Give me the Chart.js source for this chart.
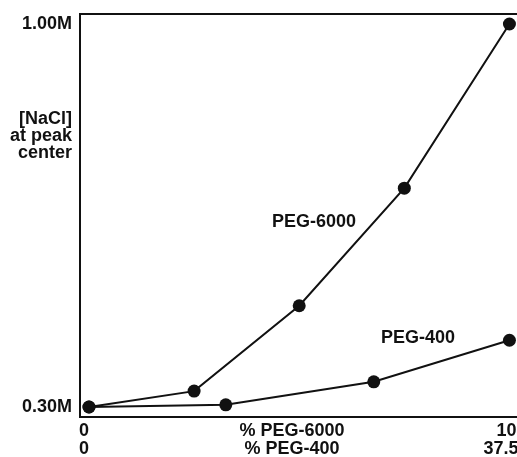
<!DOCTYPE html>
<html>
<head>
<meta charset="utf-8">
<script src="https://cdn.jsdelivr.net/npm/chart.js@4/dist/chart.umd.min.js"></script>
<style>
  body { margin: 0; background: #fff; }
  #wrap { width: 517px; height: 457px; }
</style>
</head>
<body>
<div id="wrap"><canvas id="pegChart" width="517" height="457"></canvas></div>
<script>
// data
const peg6000X = [0, 2.5, 5, 7.5, 10]          // % PEG-6000
const peg6000Y = [0.30, 0.329, 0.485, 0.70, 1.00]
const peg400X = [0, 12.2, 25.4, 37.5]           // % PEG-400
const peg400Y = [0.30, 0.304, 0.346, 0.422]

const yTickValues = [0.30, 1.00]
const yTickLabels = ['0.30M', '1.00M']
const xTickValues = [0, 10]
const xTickLabels6000 = ['0', '10']
const xTickLabels400 = ['0', '37.5']
const yTitleLines = ['[NaCl]', 'at peak', 'center']
const xTitle6000 = '% PEG-6000'
const xTitle400 = '% PEG-400'
const seriesNames = ['PEG-6000', 'PEG-400']

const FONT = 'bold 18px "Liberation Sans", Arial, Helvetica, sans-serif'
const INK = '#111'

const toPoints = (xs, ys) => xs.map((x, i) => ({ x: x, y: ys[i] }))

// frame + all the text, drawn from the scales
const paperPlugin = {
    id: 'paper',
    beforeDatasetsDraw: chart => {
        const { ctx, chartArea: a } = chart
        ctx.save()
        ctx.strokeStyle = INK
        ctx.lineWidth = 2
        ctx.beginPath()
        ctx.moveTo(a.right + 2, a.top)
        ctx.lineTo(a.left, a.top)
        ctx.lineTo(a.left, a.bottom)
        ctx.lineTo(a.right + 2, a.bottom)
        ctx.stroke()
        ctx.restore()
    },
    afterDraw: chart => {
        const { ctx, chartArea: a } = chart
        const xs = chart.scales.x
        const ys = chart.scales.y
        ctx.save()
        ctx.font = FONT
        ctx.fillStyle = INK

        // y ticks
        ctx.textAlign = 'right'
        ctx.textBaseline = 'middle'
        yTickValues.forEach((v, i) => {
            ctx.fillText(yTickLabels[i], a.left - 8, ys.getPixelForValue(v))
        })

        // y title
        ctx.textBaseline = 'alphabetic'
        yTitleLines.forEach((line, i) => {
            ctx.fillText(line, a.left - 8, 124 + i * 17)
        })

        // x ticks, two rows
        xTickValues.forEach((v, i) => {
            let px = xs.getPixelForValue(v)
            if (i === 0) {
                ctx.textAlign = 'center'
                ctx.fillText(xTickLabels6000[i], px - 5, a.bottom + 19)
                ctx.fillText(xTickLabels400[i], px - 5, a.bottom + 37)
            } else {
                ctx.textAlign = 'right'
                ctx.fillText(xTickLabels6000[i], px + 7, a.bottom + 19)
                ctx.fillText(xTickLabels400[i], px + 9, a.bottom + 37)
            }
        })

        // x titles
        ctx.textAlign = 'center'
        ctx.fillText(xTitle6000, 292, a.bottom + 19)
        ctx.fillText(xTitle400, 292, a.bottom + 37)

        // series names
        ctx.fillText(seriesNames[0], 314, 227)
        ctx.fillText(seriesNames[1], 418, 343)
        ctx.restore()
    }
}

const lineStyle = {
    borderColor: INK,
    backgroundColor: INK,
    borderWidth: 2,
    pointRadius: 6.5,
    pointBorderWidth: 0,
    pointBackgroundColor: INK,
    tension: 0,
    clip: false
}

new Chart(document.getElementById('pegChart'), {
    type: 'line',
    data: {
        datasets: [
            { label: seriesNames[0], data: toPoints(peg6000X, peg6000Y), xAxisID: 'x', ...lineStyle },
            { label: seriesNames[1], data: toPoints(peg400X, peg400Y), xAxisID: 'x2', ...lineStyle }
        ]
    },
    options: {
        responsive: false,
        animation: false,
        layout: { autoPadding: false, padding: { left: 80, top: 14, right: 0, bottom: 40 } },
        plugins: { legend: { display: false }, tooltip: { enabled: false } },
        scales: {
            x: { type: 'linear', display: false, min: -0.214, max: 10.18 },
            x2: { type: 'linear', display: false, min: -0.214 * 3.75, max: 10.18 * 3.75 },
            y: { type: 'linear', display: false, min: 0.2817, max: 1.0183 }
        }
    },
    plugins: [paperPlugin]
})
</script>
</body>
</html>
